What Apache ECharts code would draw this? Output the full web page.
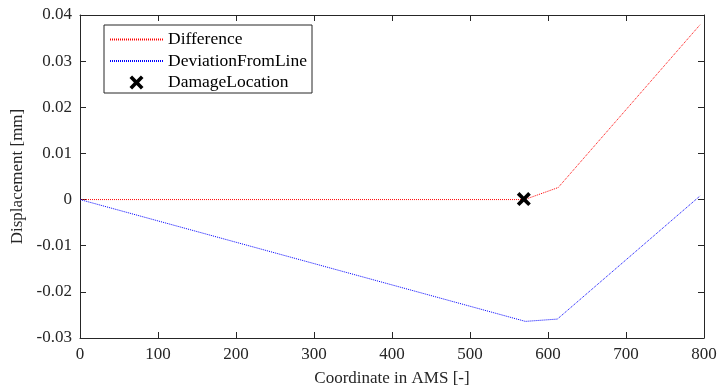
<!DOCTYPE html>
<html>
<head>
<meta charset="utf-8">
<script src="https://cdn.jsdelivr.net/npm/echarts@6/dist/echarts.min.js"></script>
<style>
html,body{margin:0;padding:0;background:#fff;}
#c{width:718px;height:388px;}
</style>
</head>
<body>
<div id="c"></div>
<script>
// Data
var differenceData = [[0, 0], [570, 0], [613, 0.0026], [795, 0.0379]];
var deviationData = [[0, 0], [571, -0.0264], [612, -0.0259], [795, 0.0008]];
var damageData = [[569, 0.0001]];
var seriesNames = ['Difference', 'DeviationFromLine', 'DamageLocation'];
var xTicks = [0, 100, 200, 300, 400, 500, 600, 700, 800];
var yTicks = [-0.03, -0.02, -0.01, 0, 0.01, 0.02, 0.03, 0.04];

var FONT = '"Liberation Serif", "Times New Roman", serif';
var AX = '#262626';
var xPath = 'path://M0,2.6 L2.6,0 L7,4.4 L11.4,0 L14,2.6 L9.6,7 L14,11.4 L11.4,14 L7,9.6 L2.6,14 L0,11.4 L4.4,7 Z';

function baseAxis(extra) {
  var a = {
    axisLine: {show: true, onZero: false, lineStyle: {color: AX, width: 1}},
    axisTick: {show: true, inside: true, length: 6, lineStyle: {color: AX}},
    splitLine: {show: false},
    axisLabel: {show: false}
  };
  for (var k in extra) a[k] = extra[k];
  return a;
}

var chart = echarts.init(document.getElementById('c'), null, {renderer: 'canvas'});
chart.setOption({
  animation: false,
  backgroundColor: '#fff',
  grid: {left: 80, right: 14, top: 15, bottom: 50, containLabel: false, outerBoundsMode: 'none'},
  legend: {
    orient: 'vertical',
    left: 104, top: 25,
    padding: [5.5, 5, 1.5, 5],
    itemGap: 3.5,
    itemWidth: 53,
    itemHeight: 14,
    backgroundColor: '#fff',
    borderColor: AX,
    borderWidth: 1,
    textStyle: {fontFamily: FONT, fontSize: 17.5, color: '#000'},
    data: [
      {name: seriesNames[0], itemStyle: {opacity: 0}},
      {name: seriesNames[1], itemStyle: {opacity: 0}},
      {name: seriesNames[2]}
    ]
  },
  xAxis: [
    baseAxis({
      type: 'value', position: 'bottom', min: xTicks[0], max: xTicks[xTicks.length - 1], interval: 100,
      name: 'Coordinate in AMS [-]', nameLocation: 'middle', nameGap: 32,
      nameTextStyle: {fontFamily: FONT, fontSize: 17, color: AX},
      axisLabel: {show: true, fontFamily: FONT, fontSize: 17, color: AX, margin: 8}
    }),
    baseAxis({type: 'value', position: 'top', min: xTicks[0], max: xTicks[xTicks.length - 1], interval: 100})
  ],
  yAxis: [
    baseAxis({
      type: 'value', position: 'left', min: yTicks[0], max: yTicks[yTicks.length - 1], interval: 0.01,
      name: 'Displacement [mm]', nameLocation: 'middle', nameGap: 43,
      nameTextStyle: {fontFamily: FONT, fontSize: 17, color: AX},
      axisLabel: {show: true, fontFamily: FONT, fontSize: 17, color: AX, margin: 8,
        formatter: function (v) { return String(+v.toFixed(2)); }}
    }),
    baseAxis({type: 'value', position: 'right', min: yTicks[0], max: yTicks[yTicks.length - 1], interval: 0.01})
  ],
  series: [
    {
      name: seriesNames[0], type: 'line', data: differenceData, symbol: 'none',
      color: '#ff0000',
      lineStyle: {color: '#ff0000', width: 1, type: [1, 1]}, z: 2
    },
    {
      name: seriesNames[1], type: 'line', data: deviationData, symbol: 'none',
      color: '#0000ff',
      lineStyle: {color: '#0000ff', width: 1, type: [1, 1]}, z: 2
    },
    {
      name: seriesNames[2], type: 'scatter', data: damageData,
      symbol: xPath, symbolSize: 14,
      color: '#000',
      itemStyle: {color: '#000', opacity: 1}, z: 3
    }
  ]
});
</script>
</body>
</html>
